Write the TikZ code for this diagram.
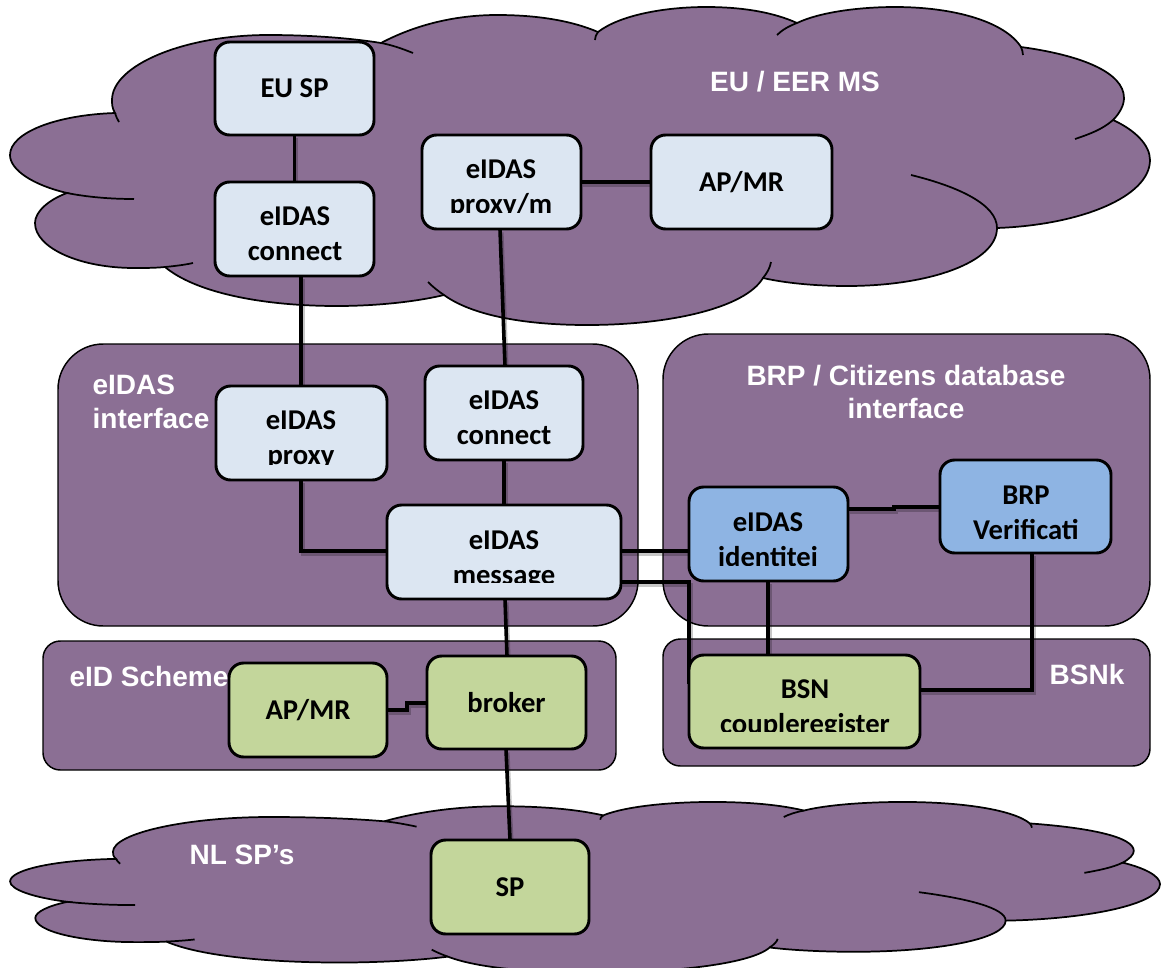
\documentclass[tikz,border=0pt]{standalone}
\usepackage{fontspec}
\usetikzlibrary{calc}
\setmainfont{Liberation Sans}
\newfontfamily\boxfont{Carlito}
\definecolor{cloudpurple}{HTML}{8B6F94}
\definecolor{boxlight}{HTML}{DCE6F2}
\definecolor{boxblue}{HTML}{8EB4E3}
\definecolor{boxgreen}{HTML}{C3D69B}
\tikzset{
  cloudfill/.style={fill=cloudpurple,draw=black,line width=1.3pt},
  cloudtail/.style={draw=black,line width=1.3pt},
  zone/.style={draw=black,line width=1.1pt,fill=cloudpurple,inner sep=0pt,outer sep=0pt},
  zonebig/.style={zone,rounded corners=34pt},
  zonesmall/.style={zone,rounded corners=13pt},
  boxbase/.style={draw=black,line width=2.2pt,rounded corners=11pt,inner sep=0pt,outer sep=0pt,
     font=\boxfont\bfseries\fontsize{21.5}{26.5}\selectfont,align=center,text=black},
  lightbox/.style={boxbase,fill=boxlight},
  bluebox/.style={boxbase,fill=boxblue},
  greenbox/.style={boxbase,fill=boxgreen},
  boxtext/.style={font=\boxfont\bfseries\fontsize{21.5}{26.5}\selectfont,align=center,text=black,inner sep=0pt},
  zonetext/.style={font=\bfseries\fontsize{21}{25}\selectfont,text=white,inner sep=0pt},
  link/.style={draw=black,line width=2.7pt,
     preaction={draw=black,draw opacity=.22,line width=3pt,transform canvas={xshift=1.2pt,yshift=-2.6pt}}},
}
\newcommand{\cloudshape}{%
  \path[cloudfill] (381,43) .. controls (415,25) and (455,15) .. (497,15)
    .. controls (535,15) and (570,20) .. (598,32)
    .. controls (620,15) and (665,7) .. (706,7)
    .. controls (745,7) and (775,13) .. (797,23)
    .. controls (820,12) and (860,7) .. (895,7)
    .. controls (955,7) and (1005,22) .. (1021,47)
    .. controls (1080,55) and (1124,72) .. (1124,98)
    .. controls (1124,105) and (1120,113) .. (1113,120)
    .. controls (1135,130) and (1150,145) .. (1150,160)
    .. controls (1150,197) and (1080,225) .. (997,228)
    .. controls (997,262) and (930,286) .. (847,286)
    .. controls (815,286) and (785,283) .. (763,278)
    .. controls (745,308) and (670,325) .. (587,325)
    .. controls (520,325) and (470,314) .. (444,295)
    .. controls (415,302) and (375,306) .. (337,306)
    .. controls (260,306) and (195,292) .. (165,267)
    .. controls (155,268) and (145,268) .. (134,268)
    .. controls (80,268) and (35,248) .. (35,223)
    .. controls (35,212) and (48,200) .. (67,193)
    .. controls (33,185) and (10,170) .. (10,155)
    .. controls (10,133) and (55,115) .. (115,113)
    .. controls (112,108) and (112,104) .. (112,100)
    .. controls (112,65) and (185,35) .. (268,35)
    .. controls (310,35) and (350,38) .. (381,43) -- cycle;
  \path[cloudtail] (381,43) .. controls (392,45) and (403,49) .. (413,53);
  \path[cloudtail] (598,32) .. controls (596,35) and (595,37) .. (595,40);
  \path[cloudtail] (797,23) .. controls (789,26) and (782,30) .. (777,35);
  \path[cloudtail] (1021,47) .. controls (1022,50) and (1023,52) .. (1023,55);
  \path[cloudtail] (1113,120) .. controls (1103,129) and (1090,134) .. (1075,139);
  \path[cloudtail] (997,228) .. controls (997,205) and (960,187) .. (911,175);
  \path[cloudtail] (763,278) .. controls (767,273) and (770,268) .. (771,262);
  \path[cloudtail] (444,295) .. controls (438,291) and (433,287) .. (428,282);
  \path[cloudtail] (165,267) .. controls (175,266) and (184,265) .. (193,263);
  \path[cloudtail] (67,193) .. controls (87,197) and (110,199) .. (134,199);
  \path[cloudtail] (115,113) .. controls (116,116) and (117,119) .. (119,122);
}
% name, x1, y1, x2, y2, style, text
\newcommand{\areanode}[7]{%
  \node[#6,minimum width={(#4-#2)*0.75pt},minimum height={(#5-#3)*0.75pt}]
    (#1) at ({(#2+#4)/2},{(#3+#5)/2}) {#7};}
% name, cx, cy, bottom limit, text
\newcommand{\cutlabel}[5]{%
  \begin{scope}
    \clip (0,0) rectangle (1161,#4);
    \node[boxtext] (#1) at (#2,#3) {#5};
  \end{scope}}
\newcommand{\low}[1]{\raisebox{-1.3pt}{#1}}
\begin{document}
\begin{tikzpicture}[x=0.75pt,y=-0.75pt]
\useasboundingbox (0,0) rectangle (1161,968);
\cloudshape
\begin{scope}
  \clip (0,0) rectangle (1161,968);
  \begin{scope}[shift={(0,798.2)},xscale=1.0087,yscale=0.537]
    \cloudshape
  \end{scope}
\end{scope}
% zones
\areanode{zinterface}{58}{344}{638}{626}{zonebig}{}
\areanode{zbrp}{663}{334}{1150}{626}{zonebig}{}
\areanode{zscheme}{43}{641}{616}{770}{zonesmall}{}
\areanode{zbsnk}{663}{639}{1150}{766}{zonesmall}{}
% link end points, on the box edges
\path
  (294.5,135) coordinate (eusps) (294.5,182) coordinate (conatn)
  (301,276) coordinate (conats) (301,386) coordinate (proxyn)
  (301,480) coordinate (proxys) (387,551) coordinate (msgw)
  (500,229) coordinate (pms) (505,366) coordinate (connbn)
  (581,182) coordinate (pme) (651,182) coordinate (apmrw)
  (504,460) coordinate (connbs) (504,505) coordinate (msgn)
  (621,551) coordinate (msge) (689,551) coordinate (idw)
  (621,582) coordinate (msgel) (689,684) coordinate (bsnw)
  (505,599) coordinate (msgs) (507,656) coordinate (brokern)
  (848,509) coordinate (ide) (940,507) coordinate (brpw)
  (768,581) coordinate (ids) (768,655) coordinate (bsnn)
  (1032,553) coordinate (brps) (920,690) coordinate (bsne)
  (387,710) coordinate (apge) (427,703) coordinate (brokerw)
  (506,749) coordinate (brokers) (510,840) coordinate (spn);
\draw[link] (eusps) -- (conatn);
\draw[link] (conats) -- (proxyn);
\draw[link] (proxys) |- (msgw);
\draw[link] (pms) -- (connbn);
\draw[link] (pme) -- (apmrw);
\draw[link] (connbs) -- (msgn);
\draw[link] (msge) -- (idw);
\draw[link] (msgel) -- ++(68,0) -- (bsnw);
\draw[link] (msgs) -- (brokern);
\draw[link] (ide) -- ++(46,0) -- ++(0,-2) -- (brpw);
\draw[link] (ids) -- (bsnn);
\draw[link] (brps) |- (bsne);
\draw[link] (apge) -- ++(20,0) |- (brokerw);
\draw[link] (brokers) -- (spn);
% boxes
\areanode{eusp}{215}{42}{374}{135}{lightbox}{\low{EU SP}}
\areanode{conntop}{215}{182}{374}{276}{lightbox}{}
\areanode{proxym}{422}{135}{581}{229}{lightbox}{}
\areanode{apmrtop}{651}{135}{832}{229}{lightbox}{\low{AP/MR}}
\areanode{proxy}{216}{386}{387}{480}{lightbox}{}
\areanode{connmid}{425}{366}{583}{460}{lightbox}{}
\areanode{message}{387}{505}{621}{599}{lightbox}{}
\areanode{identity}{689}{487}{848}{581}{bluebox}{}
\areanode{brp}{940}{460}{1111}{553}{bluebox}{}
\areanode{bsn}{689}{655}{920}{748}{greenbox}{}
\areanode{apmrgreen}{229}{663}{387}{757}{greenbox}{\low{AP/MR}}
\areanode{broker}{427}{656}{586}{749}{greenbox}{\low{broker}}
\areanode{sp}{431}{840}{589}{934}{greenbox}{\low{SP}}
% box texts that sit off-centre or are cut off at the bottom
\cutlabel{tconntop}{295}{234}{276}{eIDAS\\connect}
\cutlabel{tproxym}{501}{189}{212}{eIDAS\\proxy/m}
\cutlabel{tproxy}{301}{440}{464}{eIDAS\\proxy}
\cutlabel{tconnmid}{504}{418}{460}{eIDAS\\connect}
\cutlabel{tmessage}{504}{560}{582}{eIDAS\\message}
\cutlabel{tidentity}{768}{540}{565}{eIDAS\\identitei}
\cutlabel{tbrp}{1026}{513}{553}{BRP\\Verificati}
\cutlabel{tbsn}{805}{709}{731}{BSN\\coupleregister}
% zone labels
\node[zonetext] (leu) at (795,82) {EU / EER MS};
\node[zonetext,align=left] (lint) at (151,402) {eIDAS\\interface};
\node[zonetext,align=center] (lbrp) at (906,392) {BRP / Citizens database\\interface};
\node[zonetext] (lscheme) at (149,676) {eID Scheme};
\node[zonetext] (lbsnk) at (1087,674) {BSNk};
\node[zonetext] (lnl) at (242,855) {NL SP’s};
\end{tikzpicture}
\end{document}
